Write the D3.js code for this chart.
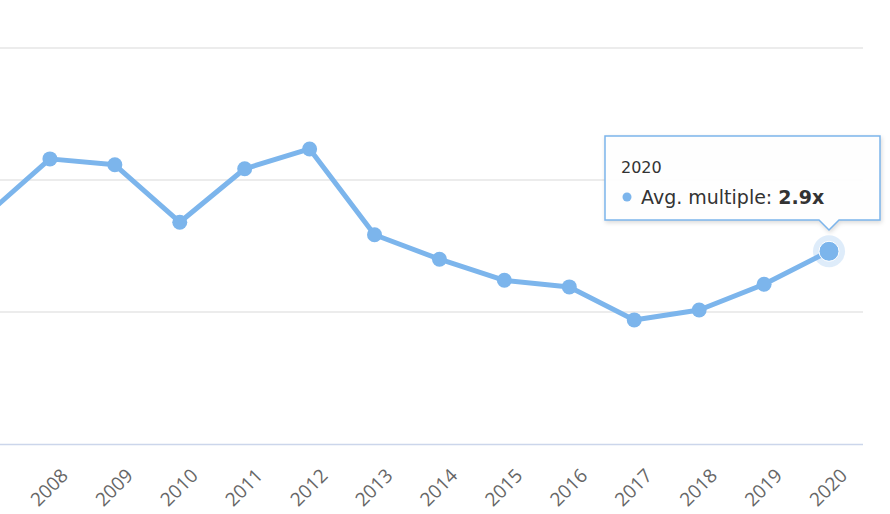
<!DOCTYPE html>
<html><head><meta charset="utf-8">
<script src="https://cdn.jsdelivr.net/npm/d3@7"></script>
<style>body{margin:0;background:#fff;overflow:hidden}</style>
</head><body><svg id="c" width="890" height="514"></svg>
<script>
const years=["2007","2008","2009","2010","2011","2012","2013","2014","2015","2016","2017","2018","2019","2020"];
const values=[3.45,4.32,4.23,3.36,4.17,4.47,3.17,2.80,2.48,2.38,1.88,2.03,2.42,2.92];
const yTicks=[0,2,4,6];
const svg=d3.select("#c");
const x=d3.scalePoint().domain(years).range([-15,829]);
const y=d3.scaleLinear().domain([0,6]).range([444,48]);
svg.append("g").selectAll("line").data(yTicks.slice(1)).join("line")
 .attr("x1",0).attr("x2",863).attr("y1",d=>y(d)).attr("y2",d=>y(d))
 .attr("stroke","#e6e6e6").attr("stroke-width",1.5);
svg.append("line").attr("x1",0).attr("x2",863).attr("y1",y(0)+0.5).attr("y2",y(0)+0.5).attr("stroke","#ccd6eb").attr("stroke-width",1.5);
const xa=svg.append("g").attr("transform",`translate(0,${y(0)})`)
 .call(d3.axisBottom(x).tickSize(0).tickFormat(d=>d==="2007"?"":d));
xa.select(".domain").remove();
xa.selectAll("text").attr("fill","#666").attr("font-family","'Open Sans', sans-serif").attr("font-size",19)
 .attr("text-anchor","end").attr("transform","translate(12,26) rotate(-45)").attr("dy","0.35em").attr("dx","0");
const line=d3.line().x((d,i)=>x(years[i])).y(d=>y(d));
svg.append("path").datum(values).attr("d",line).attr("fill","none").attr("stroke","#7cb5ec").attr("stroke-width",5).attr("stroke-linejoin","round");
const last=values.length-1;
svg.append("circle").attr("cx",x(years[last])).attr("cy",y(values[last])).attr("r",16).attr("fill","#7cb5ec").attr("opacity",0.25);
svg.append("g").selectAll("circle").data(values).join("circle")
 .attr("cx",(d,i)=>x(years[i])).attr("cy",d=>y(d)).attr("r",(d,i)=>i===last?10:7.5)
 .attr("fill","#7cb5ec").attr("stroke",(d,i)=>i===last?"#fff":"none").attr("stroke-width",1);
const tx=605,ty=136,tw=275,th=84,px=x(years[last]);
const tg=svg.append("g");
tg.append("path").attr("d",`M${tx+3},${ty} H${tx+tw} V${ty+th} H${px+10} L${px},${ty+th+10} L${px-10},${ty+th} H${tx} V${ty} Z`)
 .attr("fill","rgba(255,255,255,0.95)").attr("stroke","#7cb5ec").attr("stroke-width",1.5)
 .style("filter","drop-shadow(1px 2px 2px rgba(0,0,0,0.15))");
tg.append("text").attr("x",tx+16).attr("y",ty+37).attr("font-family","'DejaVu Sans', sans-serif").attr("font-size",16).attr("fill","#333").text(years[last]);
tg.append("circle").attr("cx",tx+22).attr("cy",ty+61).attr("r",4.5).attr("fill","#7cb5ec");
const t=tg.append("text").attr("x",tx+36).attr("y",ty+68).attr("font-family","'DejaVu Sans', sans-serif").attr("font-size",19).attr("fill","#333");
t.append("tspan").text("Avg. multiple: ");
t.append("tspan").attr("font-weight","bold").text(values[last].toFixed(1)+"x");
</script></body></html>
